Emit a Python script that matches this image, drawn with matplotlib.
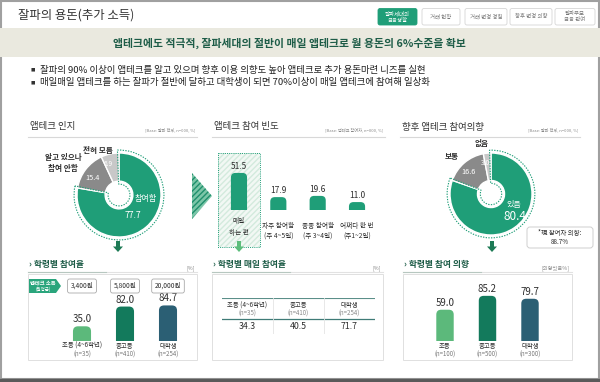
import matplotlib

matplotlib.use("Agg")
import matplotlib.pyplot as plt
import matplotlib.patches as mpatches
from matplotlib.patches import FancyBboxPatch, Rectangle, Polygon, FancyArrow

plt.rcParams['font.family'] = ['Noto Sans CJK KR', 'DejaVu Sans']

W, H = 600, 382

# ---- data ----
page_title = "잘파의 용돈(추가 소득)"
tabs = ["잘파세대의\n금융생활", "거래 현황", "거래 변경 경험", "향후 변경 의향", "알파부모\n금융 관여"]
headline = "앱테크에도 적극적, 잘파세대의 절반이 매일 앱테크로 월 용돈의 6%수준을 확보"
bullets = [
    "잘파의 90% 이상이 앱테크를 알고 있으며 향후 이용 의향도 높아 앱테크로 추가 용돈마련 니즈를 실현",
    "매일매일 앱테크를 하는 잘파가 절반에 달하고 대학생이 되면 70%이상이 매일 앱테크에 참여해 일상화",
]
panel_titles = ["앱테크 인지", "앱테크 참여 빈도", "향후 앱테크 참여의향"]
panel_bases = ["[Base: 잘파 전체, n=000, %]", "[Base: 앱테크 참여자, n=000, %]", "[Base: 잘파 전체, n=000, %]"]

aware_labels = ["참여함", "알고 있으나\n참여 안함", "전혀 모름"]
aware_values = [77.7, 15.4, 6.9]

freq_labels = ["매일\n하는 편", "자주 참여함\n(주 4~5일)", "종종 참여함\n(주 3~4일)", "어쩌다 한 번\n(주1~2일)"]
freq_values = [51.5, 17.9, 19.6, 11.0]

intent_labels = ["있음", "보통", "없음"]
intent_values = [80.4, 16.6, 3.0]
current_intent = 88.7

sub_titles = ["› 학령별 참여율", "› 학령별 매일 참여율", "› 학령별 참여 의향"]
sub_units = ["[%]", "[%]", "[의향있음%]"]

grade_labels = ["초등 (4~6학년)", "중고등", "대학생"]
grade_n = ["(n=35)", "(n=410)", "(n=254)"]
grade_rate = [35.0, 82.0, 84.7]
grade_income = ["3,400원", "5,800원", "20,000원"]

daily_labels = ["초등 (4~6학년)", "중고등", "대학생"]
daily_n = ["(n=35)", "(n=410)", "(n=254)"]
daily_rate = [34.3, 40.5, 71.7]

intent_grade_labels = ["초등", "중고등", "대학생"]
intent_grade_n = ["(n=100)", "(n=500)", "(n=300)"]
intent_grade_rate = [59.0, 85.2, 79.7]

# ---- colours ----
GREEN = "#1f9e78"
GRAY = "#8a8a8a"
LGRAY = "#c8c8c8"
DARK = "#2e2e2e"
TXTGREEN = "#1d5c47"
GRADE_COLORS = ["#5cb97b", "#137a5c", "#2b5f74"]

fig = plt.figure(figsize=(W / 100, H / 100), dpi=100)
fig.patch.set_facecolor("white")

bg = fig.add_axes([0, 0, 1, 1])
bg.set_xlim(0, W)
bg.set_ylim(H, 0)
bg.axis("off")

# overlay for labels that sit on top of the charts
fg = fig.add_axes([0, 0, 1, 1])
fg.set_xlim(0, W)
fg.set_ylim(H, 0)
fg.axis("off")
fg.set_zorder(5)


def px_axes(x0, y0, x1, y1):
    ax = fig.add_axes([x0 / W, 1 - y1 / H, (x1 - x0) / W, (y1 - y0) / H])
    ax.patch.set_alpha(0)
    return ax


def rounded_bars(ax, values, colors, width, ymax):
    bars = ax.bar(range(len(values)), values, width=width, color=colors)
    ax.set_xlim(-0.5, len(values) - 0.5)
    ax.set_ylim(0, ymax)
    bb = ax.get_position()
    xu = len(values) / (bb.width * W)
    yu = ymax / (bb.height * H)
    aspect = yu / xu
    rs = width * 0.28
    for b in bars:
        b.set_visible(False)
        ext = rs * aspect * 2
        p = FancyBboxPatch((b.get_x(), -ext), b.get_width(), b.get_height() + ext,
                           boxstyle=f"round,pad=0,rounding_size={rs}",
                           mutation_aspect=aspect, fc=b.get_facecolor(), ec="none")
        ax.add_patch(p)
    ax.axis("off")
    return bars


def donut(cx, cy, r, values, colors):
    ax = px_axes(cx - r * 1.25, cy - r * 1.25, cx + r * 1.25, cy + r * 1.25)
    wedges, _ = ax.pie(values, colors=colors, startangle=90, counterclock=False,
                       radius=1.0, wedgeprops=dict(width=0.67, edgecolor="white", linewidth=1.0))
    ax.set_xlim(-1.25, 1.25)
    ax.set_ylim(-1.25, 1.25)
    ax.set_aspect("equal")
    w0 = wedges[0]
    rim = mpatches.Wedge(w0.center, w0.r + 0.07, w0.theta1 - 2, w0.theta2 + 2, width=w0.width + 0.14,
                         fill=False, ec=GREEN, lw=0.8, ls=(0, (1.2, 1.2)))
    ax.add_patch(rim)
    return ax


# ---- frame ----
bg.add_patch(Rectangle((1, 1), W - 2.5, H - 4, fill=False, ec="#a0a0a0", lw=1.5))
bg.add_patch(Rectangle((0, H - 3.5), W, 3.5, color="#5a5a5a"))

# title + tabs
bg.text(18, 15, page_title, fontsize=8.9, color="#333333", va="center", ha="left")
tab_x = [(378, 417), (422, 460), (465, 507), (510, 552), (555, 595)]
for i, (t, (x0, x1)) in enumerate(zip(tabs, tab_x)):
    active = i == 0
    bg.add_patch(FancyBboxPatch((x0, 8.5), x1 - x0, 16.5, boxstyle="round,pad=0,rounding_size=2",
                                fc=GREEN if active else "white", ec=GREEN if active else "#d6d6d6", lw=0.6))
    bg.text((x0 + x1) / 2, 16.8, t, fontsize=3.9, ha="center", va="center",
            color="white" if active else "#777777", linespacing=1.2)

# headline band
bg.add_patch(Rectangle((0, 28), W, 29, color="#eae9df", lw=0))
bg.text(289, 43, headline, fontsize=7.8, fontweight="bold", color=TXTGREEN, ha="center", va="center")

for i, b in enumerate(bullets):
    y = 70 + i * 12.5
    bg.text(33, y, "■", fontsize=3.2, color="#333333", ha="center", va="center")
    bg.text(39.5, y, b, fontsize=6.8, color="#222222", ha="left", va="center")

# panel headers
title_x = [(28, 197), (212, 385), (400, 580)]
for (x0, x1), t, base in zip(title_x, panel_titles, panel_bases):
    bg.text(x0 + 2, 127, t, fontsize=6.8, color="#333333", ha="left", va="center")
    bg.text(x1 - 2, 130, base, fontsize=3, color="#888888", ha="right", va="center")
    bg.plot([x0, x1], [137, 137], color="#d8d8d8", lw=0.8)

# ---- donut 1: awareness ----
donut(119, 195, 42, aware_values, [GREEN, GRAY, LGRAY])
fg.text(146, 198, aware_labels[0], fontsize=5.8, color="white", ha="center", va="center")
fg.text(133, 216, f"{aware_values[0]:.1f}", fontsize=6.2, color="white", style="italic", ha="center", va="center")
fg.text(93, 178, f"{aware_values[1]:.1f}", fontsize=5.3, color="white", ha="center", va="center")
fg.text(108, 164, f"{aware_values[2]:.1f}", fontsize=4.8, color="white", ha="center", va="center")
fg.text(98, 150, aware_labels[2], fontsize=5.5, fontweight="bold", color=DARK, ha="center", va="center")
fg.text(63, 163, aware_labels[1], fontsize=5.5, fontweight="bold", color=DARK, ha="center", va="center",
        linespacing=1.15)

# chevron between panels
bg.add_patch(Polygon([(192, 173), (212, 196), (192, 219)], closed=True, fc="#7cc6a8",
                     ec="#1f8f6c", hatch="//////", lw=0))

# highlight box around "daily"
bg.add_patch(Rectangle((218, 153), 42, 94, fc="#f2f8f4", ec="#d3eadd", hatch="//////", lw=0))
bg.add_patch(Rectangle((218, 153), 42, 94, fill=False, ec=GREEN, lw=0.7, ls=(0, (1, 1.2))))

# ---- bars: frequency ----
ax2 = px_axes(219.3, 159.6, 376.7, 210)
rounded_bars(ax2, freq_values, [GREEN] * len(freq_values), 0.41, 70)
for i, (v, lab) in enumerate(zip(freq_values, freq_labels)):
    ax2.annotate(f"{v:.1f}", (i, v), xytext=(0, 2), textcoords="offset pixels", ha="center", va="bottom",
                 fontsize=6, color=DARK, annotation_clip=False)
    ax2.annotate(lab, (i, 0), xytext=(0, -7 if i == 0 else -12), textcoords="offset pixels", ha="center",
                 va="top", fontsize=4.8, color=DARK, linespacing=1.7 if i == 0 else 1.3,
                 annotation_clip=False)

# ---- donut 3: intention ----
donut(491, 194, 41, intent_values, [GREEN, GRAY, LGRAY])
fg.text(482, 143, intent_labels[2], fontsize=5.5, fontweight="bold", color=DARK, ha="center", va="center")
fg.text(452, 157, intent_labels[1], fontsize=5.5, fontweight="bold", color=DARK, ha="center", va="center")
fg.text(469, 172, f"{intent_values[1]:.1f}", fontsize=5.3, color="white", ha="center", va="center")
fg.text(485.5, 163, f"{intent_values[2]:.1f}", fontsize=4.8, color="white", ha="center", va="center")
fg.text(514, 204, intent_labels[0], fontsize=5.8, color="white", ha="center", va="center")
fg.text(515, 217, f"{intent_values[0]:.1f}", fontsize=8.5, color="white", ha="center", va="center")
fg.add_patch(FancyBboxPatch((527, 227), 66, 21, boxstyle="round,pad=0,rounding_size=3", fc="white",
                            ec="#cfcfcf", lw=0.7))
fg.text(560, 233.5, "*現 참여자 의향:", fontsize=4.6, color=DARK, ha="center", va="center")
fg.text(560, 242, f"{current_intent:.1f}%", fontsize=4.6, color=DARK, ha="center", va="center")

# down arrows
for x, c in [(118, "#1d7a55"), (239, "#5cbd7b"), (492, "#1d7a55")]:
    fg.add_patch(FancyArrow(x, 241, 0, 11, width=4, head_width=10, head_length=5.5,
                            length_includes_head=True, color=c, lw=0))

# ---- bottom sub panels ----
sub_x = [(28, 197), (212, 383), (403, 572)]
for (x0, x1), t, u in zip(sub_x, sub_titles, sub_units):
    bg.text(x0 + 1, 265, t, fontsize=6.3, fontweight="bold", color=TXTGREEN, ha="left", va="center")
    bg.text(x1 - 2, 268, u, fontsize=3.8, color="#888888", ha="right", va="center")
    bg.plot([x0, x1], [271.5, 271.5], color="#e2e2e2", lw=0.8)
    bg.plot([x0, x0 + 78], [271.5, 271.5], color="#b7c7c0", lw=0.8)
    bg.add_patch(Rectangle((x0, 274), x1 - x0, 86, fill=False, ec="#e0e0e0", lw=0.7))

# grade participation
bg.add_patch(Polygon([(29, 279), (56, 279), (61, 286), (56, 293), (29, 293)], closed=True,
                     fc="#2aa57c", ec="none"))
bg.text(43, 283, "앱테크 소득", fontsize=3.8, color="white", ha="center", va="center", fontweight="bold")
bg.text(43, 289.5, "(월평균)", fontsize=3.2, color="white", ha="center", va="center")

ax4 = px_axes(60.5, 299, 189.5, 341)
rounded_bars(ax4, grade_rate, GRADE_COLORS, 0.42, 100)
for i, (v, lab, n, inc) in enumerate(zip(grade_rate, grade_labels, grade_n, grade_income)):
    ax4.annotate(f"{v:.1f}", (i, v), xytext=(0, 2), textcoords="offset pixels", ha="center", va="bottom",
                 fontsize=7, color=DARK, annotation_clip=False)
    ax4.annotate(lab, (i, 0), xytext=(0, -1), textcoords="offset pixels", ha="center", va="top",
                 fontsize=4.6, color=DARK, annotation_clip=False)
    ax4.annotate(n, (i, 0), xytext=(0, -10), textcoords="offset pixels", ha="center", va="top",
                 fontsize=4.4, color="#777777", annotation_clip=False)
    ax4.annotate(inc, (i, 0), xytext=(0, 55), textcoords="offset pixels", ha="center", va="center",
                 fontsize=4.8, color=DARK, annotation_clip=False,
                 bbox=dict(boxstyle="round,pad=0.45,rounding_size=0.3", fc="white", ec="#aaaaaa", lw=0.6))

# daily participation table
ax5 = px_axes(222, 298, 375, 334)
ax5.set_xlim(0, 3)
ax5.set_ylim(1, 0)
ax5.axis("off")
ax5.axhline(0, color="#5b8f89", lw=0.8)
ax5.axhline(0.58, color="#3f7b77", lw=0.9)
ax5.axhline(1.0, color="#dddddd", lw=0.7)
for k in (1, 2):
    ax5.axvline(k, color="#e4e4e4", lw=0.6)
for i, (lab, n, v) in enumerate(zip(daily_labels, daily_n, daily_rate)):
    ax5.text(i + 0.5, 0.2, lab, fontsize=4.6, color=DARK, ha="center", va="center")
    ax5.text(i + 0.5, 0.44, n, fontsize=4.4, color="#888888", ha="center", va="center")
    ax5.text(i + 0.5, 0.8, f"{v:.1f}", fontsize=6.3, color=DARK, ha="center", va="center")

# intention by grade
ax6 = px_axes(423.75, 288, 551.25, 341)
rounded_bars(ax6, intent_grade_rate, GRADE_COLORS, 0.41, 100)
for i, (v, lab, n) in enumerate(zip(intent_grade_rate, intent_grade_labels, intent_grade_n)):
    ax6.annotate(f"{v:.1f}", (i, v), xytext=(0, 2), textcoords="offset pixels", ha="center", va="bottom",
                 fontsize=7, color=DARK, annotation_clip=False)
    ax6.annotate(lab, (i, 0), xytext=(0, -1), textcoords="offset pixels", ha="center", va="top",
                 fontsize=4.6, color=DARK, annotation_clip=False)
    ax6.annotate(n, (i, 0), xytext=(0, -10), textcoords="offset pixels", ha="center", va="top",
                 fontsize=4.4, color="#777777", annotation_clip=False)

fig.savefig("out.png", dpi=100)
